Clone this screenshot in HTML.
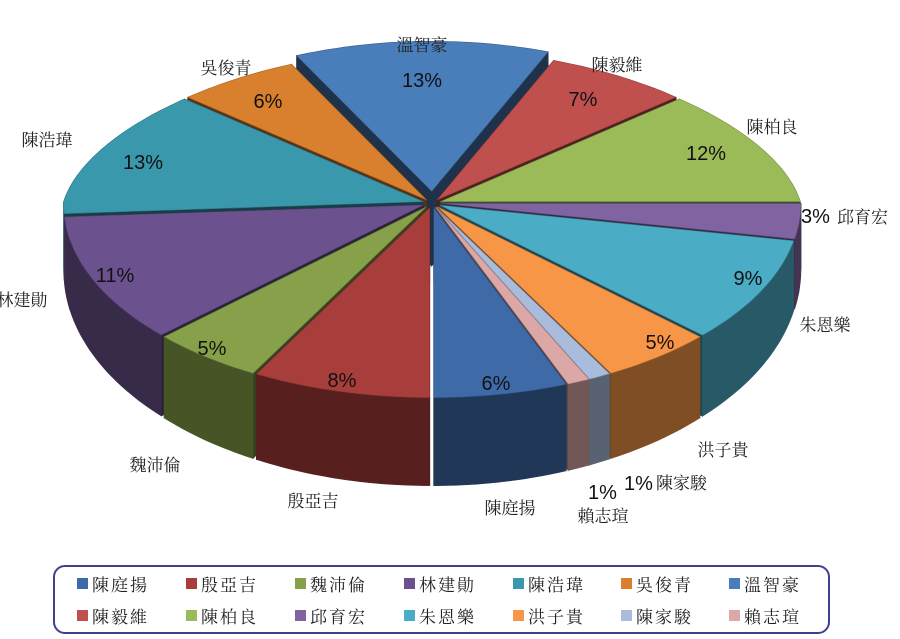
<!DOCTYPE html>
<html><head><meta charset="utf-8">
<style>
html,body{margin:0;padding:0;background:#fff;}
svg{display:block;}
text{font-family:"Noto Serif CJK SC","Noto Serif CJK TC","Liberation Serif",serif;font-size:17px;fill:#222;}
.p{font-family:"Liberation Sans","Noto Sans CJK TC",sans-serif;font-size:20px;fill:#111;}
.lg{font-size:17px;letter-spacing:2px;}
</style></head>
<body>
<svg id="s" width="900" height="639" viewBox="0 0 900 639" xmlns="http://www.w3.org/2000/svg">
<g id="pie"></g>
<text class="p" x="422" y="87" text-anchor="middle">13%</text>
<text class="p" x="583" y="106" text-anchor="middle">7%</text>
<text class="p" x="706" y="160" text-anchor="middle">12%</text>
<text class="p" x="748" y="285" text-anchor="middle">9%</text>
<text class="p" x="660" y="349" text-anchor="middle">5%</text>
<text class="p" x="496" y="390" text-anchor="middle">6%</text>
<text class="p" x="342" y="387" text-anchor="middle">8%</text>
<text class="p" x="212" y="355" text-anchor="middle">5%</text>
<text class="p" x="115" y="282" text-anchor="middle">11%</text>
<text class="p" x="143" y="169" text-anchor="middle">13%</text>
<text class="p" x="268" y="108" text-anchor="middle">6%</text>
<text class="p" x="801" y="223">3%</text>
<text class="p" x="624" y="490">1%</text>
<text class="p" x="588" y="499">1%</text>
<text x="422" y="51" text-anchor="middle">溫智豪</text>
<text x="226" y="74" text-anchor="middle">吳俊青</text>
<text x="617" y="71" text-anchor="middle">陳毅維</text>
<text x="772" y="133" text-anchor="middle">陳柏良</text>
<text x="837" y="223">邱育宏</text>
<text x="825" y="331" text-anchor="middle">朱恩樂</text>
<text x="723" y="456" text-anchor="middle">洪子貴</text>
<text x="656" y="489">陳家駿</text>
<text x="603" y="522" text-anchor="middle">賴志瑄</text>
<text x="510" y="514" text-anchor="middle">陳庭揚</text>
<text x="313" y="507" text-anchor="middle">殷亞吉</text>
<text x="155" y="471" text-anchor="middle">魏沛倫</text>
<text x="22" y="306" text-anchor="middle">林建勛</text>
<text x="47" y="146" text-anchor="middle">陳浩瑋</text>
<rect x="54" y="566" width="775" height="67" rx="11" fill="#fff" stroke="#3d4190" stroke-width="2"/>
<rect x="77" y="578" width="11" height="11" fill="#3f6aa8"/><text class="lg" x="92" y="591">陳庭揚</text>
<rect x="186" y="578" width="11" height="11" fill="#a83e3b"/><text class="lg" x="201" y="591">殷亞吉</text>
<rect x="295" y="578" width="11" height="11" fill="#87a14a"/><text class="lg" x="310" y="591">魏沛倫</text>
<rect x="404" y="578" width="11" height="11" fill="#6b528e"/><text class="lg" x="419" y="591">林建勛</text>
<rect x="513" y="578" width="11" height="11" fill="#3a98ad"/><text class="lg" x="528" y="591">陳浩瑋</text>
<rect x="621" y="578" width="11" height="11" fill="#d9802f"/><text class="lg" x="636" y="591">吳俊青</text>
<rect x="729" y="578" width="11" height="11" fill="#4a7ebb"/><text class="lg" x="744" y="591">溫智豪</text>
<rect x="77" y="610" width="11" height="11" fill="#c0504d"/><text class="lg" x="92" y="623">陳毅維</text>
<rect x="186" y="610" width="11" height="11" fill="#9bbb59"/><text class="lg" x="201" y="623">陳柏良</text>
<rect x="295" y="610" width="11" height="11" fill="#8064a2"/><text class="lg" x="310" y="623">邱育宏</text>
<rect x="404" y="610" width="11" height="11" fill="#4bacc6"/><text class="lg" x="419" y="623">朱恩樂</text>
<rect x="513" y="610" width="11" height="11" fill="#f79646"/><text class="lg" x="528" y="623">洪子貴</text>
<rect x="621" y="610" width="11" height="11" fill="#a9bcdc"/><text class="lg" x="636" y="623">陳家駿</text>
<rect x="729" y="610" width="11" height="11" fill="#dba8a7"/><text class="lg" x="744" y="623">賴志瑄</text>
</svg>
<script>
(function(){
var cx=432,cy=203,rx=360,ryT=150,ryB=190,D=88,E=9;
var data=[[6,"#3f6aa8"],[8,"#a83e3b"],[5,"#87a14a"],[11,"#6b528e"],[13,"#3a98ad"],[6,"#d9802f"],[13,"#4a7ebb"],[7,"#c0504d"],[12,"#9bbb59"],[3,"#8064a2"],[9,"#4bacc6"],[5,"#f79646"],[1,"#a9bcdc"],[1,"#dba8a7"]];
function dark(c,f){var n=parseInt(c.slice(1),16);var r=(n>>16)&255,g=(n>>8)&255,b=n&255;return "rgb("+Math.round(r*f)+","+Math.round(g*f)+","+Math.round(b*f)+")";}
function pt(t,ox,oy,dz){var s=Math.sin(t);var ry=s<0?ryT:ryB;var fx=s<0?1+0.13*s:1;var d=dz?D*(0.75+0.25*Math.max(0,s)):0;return [cx+ox+rx*fx*Math.cos(t),cy+oy+ry*s+d];}
var start=68.4*Math.PI/180;var a=start;var slices=[];
data.forEach(function(d,i){var sw=d[0]/100*2*Math.PI;var m=a+sw/2;var e=E;var ox=e*Math.cos(m),oy=e*Math.sin(m)*(Math.sin(m)<0?ryT:ryB)/rx;if(i==6){oy-=8;}
slices.push({a0:a,a1:a+sw,m:m,ox:ox,oy:oy,c:d[1]});a+=sw;});
var sides=[],tops=[];
function arc(s,a0,a1,dz){var p=[],n=Math.max(2,Math.ceil((a1-a0)/0.02));for(var k=0;k<=n;k++){p.push(pt(a0+(a1-a0)*k/n,s.ox,s.oy,dz));}return p;}
function poly(p,fill,st){return '<polygon points="'+p.map(function(q){return q[0].toFixed(1)+","+q[1].toFixed(1)}).join(" ")+'" fill="'+fill+'" stroke="'+(st||fill)+'" stroke-width="0.6"/>';}
slices.forEach(function(s){
 var C=[cx+s.ox,cy+s.oy],Cb=[cx+s.ox,cy+s.oy+D*0.85];
 [s.a0,s.a1].forEach(function(t){var p=pt(t,s.ox,s.oy,false),pb=pt(t,s.ox,s.oy,true);
  sides.push({z:(p[1]+C[1])/2-1000,h:poly([C,p,pb,Cb],dark(s.c,0.4))});});
 var tt=[];for(var k=-1;k<=1;k++){var lo=Math.max(s.a0,k*2*Math.PI),hi=Math.min(s.a1,k*2*Math.PI+Math.PI);if(hi>lo)tt.push([lo,hi]);}
 tt.forEach(function(r){var top=arc(s,r[0],r[1],false),bot=arc(s,r[0],r[1],true).reverse();
  sides.push({z:pt((r[0]+r[1])/2,s.ox,s.oy,false)[1],h:poly(top.concat(bot),dark(s.c,0.52))});});
 tops.push(poly([C].concat(arc(s,s.a0,s.a1,false)),s.c,dark(s.c,0.75)));
});
sides.sort(function(x,y){return x.z-y.z;});
document.getElementById("pie").innerHTML=sides.map(function(x){return x.h}).join("")+tops.join("");
})();
</script>
</body></html>
